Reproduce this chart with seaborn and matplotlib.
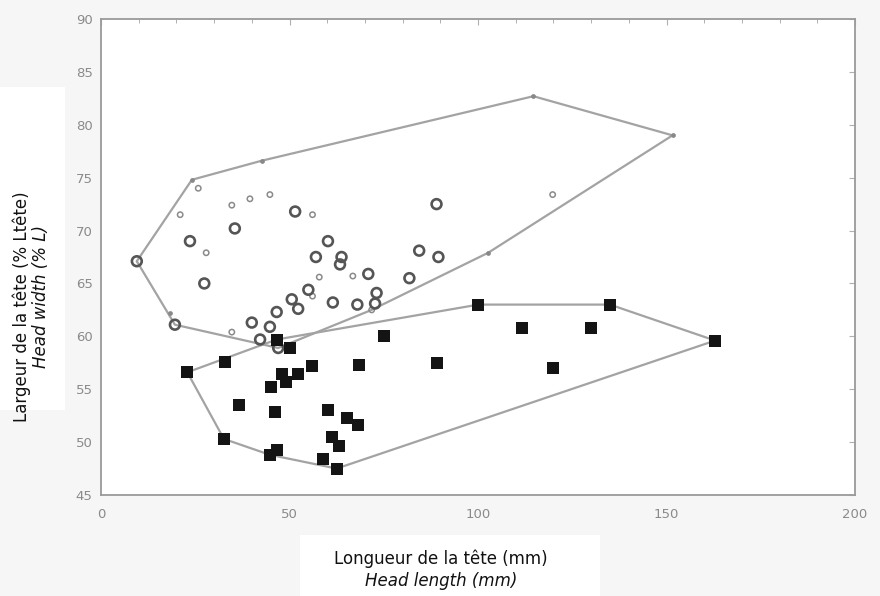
import numpy as np
import seaborn as sns
import matplotlib.pyplot as plt
from matplotlib.patches import Rectangle
from matplotlib.ticker import MultipleLocator

# big open circles
big_x = [9.5, 23.6, 27.4, 19.6, 35.5, 51.5, 40.0, 42.2, 44.8, 46.6, 47.0, 50.6, 52.3,
         55.0, 57.0, 60.2, 63.8, 63.4, 61.5, 70.9, 73.1, 68.0, 72.7, 81.8, 84.4, 89.5, 89.0]
big_y = [67.1, 69.0, 65.0, 61.1, 70.2, 71.8, 61.3, 59.7, 60.9, 62.3, 58.9, 63.5, 62.6,
         64.4, 67.5, 69.0, 67.5, 66.8, 63.2, 65.9, 64.1, 63.0, 63.1, 65.5, 68.1, 67.5, 72.5]

# small open circles
small_x = [25.8, 21.0, 27.9, 34.7, 39.5, 44.8, 56.1, 34.7, 56.1, 57.9, 66.8, 71.8, 119.8]
small_y = [74.0, 71.5, 67.9, 72.4, 73.0, 73.4, 71.5, 60.4, 63.8, 65.6, 65.7, 62.5, 73.4]

# tiny points on the outline of the circle group
tiny_x = [18.3, 24.1, 42.6, 114.7, 151.6, 102.7]
tiny_y = [62.2, 74.8, 76.6, 82.7, 79.0, 67.9]

# filled squares
sq_x = [22.9, 32.9, 36.7, 32.6, 46.2, 45.0, 47.9, 49.2, 52.3, 56.1, 46.6, 50.1, 68.5,
        75.1, 60.3, 65.3, 68.3, 61.2, 63.2, 59.0, 62.5, 44.8, 46.8, 89.0, 100.1, 111.8,
        120.0, 130.1, 135.0, 162.9]
sq_y = [56.6, 57.6, 53.5, 50.3, 52.8, 55.2, 56.4, 55.7, 56.4, 57.2, 59.7, 58.9, 57.3,
        60.0, 53.0, 52.3, 51.6, 50.5, 49.6, 48.4, 47.5, 48.8, 49.3, 57.5, 63.0, 60.8,
        57.0, 60.8, 63.0, 59.6]


def convex_hull(xs, ys):
    pts = sorted(set(zip(xs, ys)))

    def cross(o, a, b):
        return (a[0] - o[0]) * (b[1] - o[1]) - (a[1] - o[1]) * (b[0] - o[0])

    lower, upper = [], []
    for p in pts:
        while len(lower) >= 2 and cross(lower[-2], lower[-1], p) <= 0:
            lower.pop()
        lower.append(p)
    for p in reversed(pts):
        while len(upper) >= 2 and cross(upper[-2], upper[-1], p) <= 0:
            upper.pop()
        upper.append(p)
    hull = lower[:-1] + upper[:-1]
    hull.append(hull[0])
    return [p[0] for p in hull], [p[1] for p in hull]


sns.set_style("white")
plt.rcParams['font.family'] = ['DejaVu Sans']

fig = plt.figure(figsize=(8.8, 5.96), dpi=100, facecolor="#f6f6f6")

# white patches behind the axis titles
fig.patches.append(Rectangle((0, 1 - 410 / 596), 65 / 880, 323 / 596,
                             transform=fig.transFigure, fc="white", ec="none", zorder=0))
fig.patches.append(Rectangle((300 / 880, 0), 300 / 880, 61 / 596,
                             transform=fig.transFigure, fc="white", ec="none", zorder=0))

ax = fig.add_axes([101 / 880, 101 / 596, 754 / 880, 476 / 596])
ax.set_facecolor("white")

line_col = "#a3a3a3"
cx, cy = convex_hull(big_x + small_x + tiny_x, big_y + small_y + tiny_y)
sns.lineplot(x=cx, y=cy, sort=False, estimator=None, color=line_col, lw=1.6, ax=ax)
hx, hy = convex_hull(sq_x, sq_y)
sns.lineplot(x=hx, y=hy, sort=False, estimator=None, color=line_col, lw=1.6, ax=ax)

sns.scatterplot(x=tiny_x, y=tiny_y, s=8, color="#888888", edgecolor="#888888",
                linewidth=0.5, ax=ax, zorder=3)
sns.scatterplot(x=small_x, y=small_y, s=15, facecolor="none", edgecolor="#8a8a8a",
                linewidth=1.1, ax=ax, zorder=3)
sns.scatterplot(x=big_x, y=big_y, s=50, facecolor="none", edgecolor="#555555",
                linewidth=1.9, ax=ax, zorder=3)
sns.scatterplot(x=sq_x, y=sq_y, marker="s", s=81, color="#141414", edgecolor="#141414",
                linewidth=0, ax=ax, zorder=4)

ax.set_xlim(0, 200)
ax.set_ylim(45, 90)
ax.xaxis.set_major_locator(MultipleLocator(50))
ax.xaxis.set_minor_locator(MultipleLocator(10))
ax.yaxis.set_major_locator(MultipleLocator(5))
ax.tick_params(which="both", direction="in", top=True, right=True, color="#b0b0b0",
               labelcolor="#8a8a8a", labelsize=9.5)
ax.tick_params(which="major", length=4, width=0.8)
ax.tick_params(which="minor", length=3, width=0.7)
ax.tick_params(axis="x", pad=9)
ax.tick_params(axis="y", pad=6)
for sp in ax.spines.values():
    sp.set_color("#9a9a9a")
    sp.set_linewidth(1.3)
ax.set_xlabel("")
ax.set_ylabel("")

fig.text(441 / 880, 1 - 559 / 596, "Longueur de la tête (mm)", ha="center", va="center",
         fontsize=12, color="#111111")
fig.text(441 / 880, 1 - 581 / 596, "Head length (mm)", ha="center", va="center",
         fontsize=12, style="italic", color="#111111")
fig.text(22 / 880, 1 - 307 / 596, "Largeur de la tête (% Ltête)", ha="center", va="center",
         rotation=90, fontsize=12, color="#111111")
fig.text(41 / 880, 1 - 297 / 596, "Head width (% L)", ha="center", va="center",
         rotation=90, fontsize=12, style="italic", color="#111111")

plt.savefig("out.png", dpi=100, facecolor=fig.get_facecolor())
plt.close()
